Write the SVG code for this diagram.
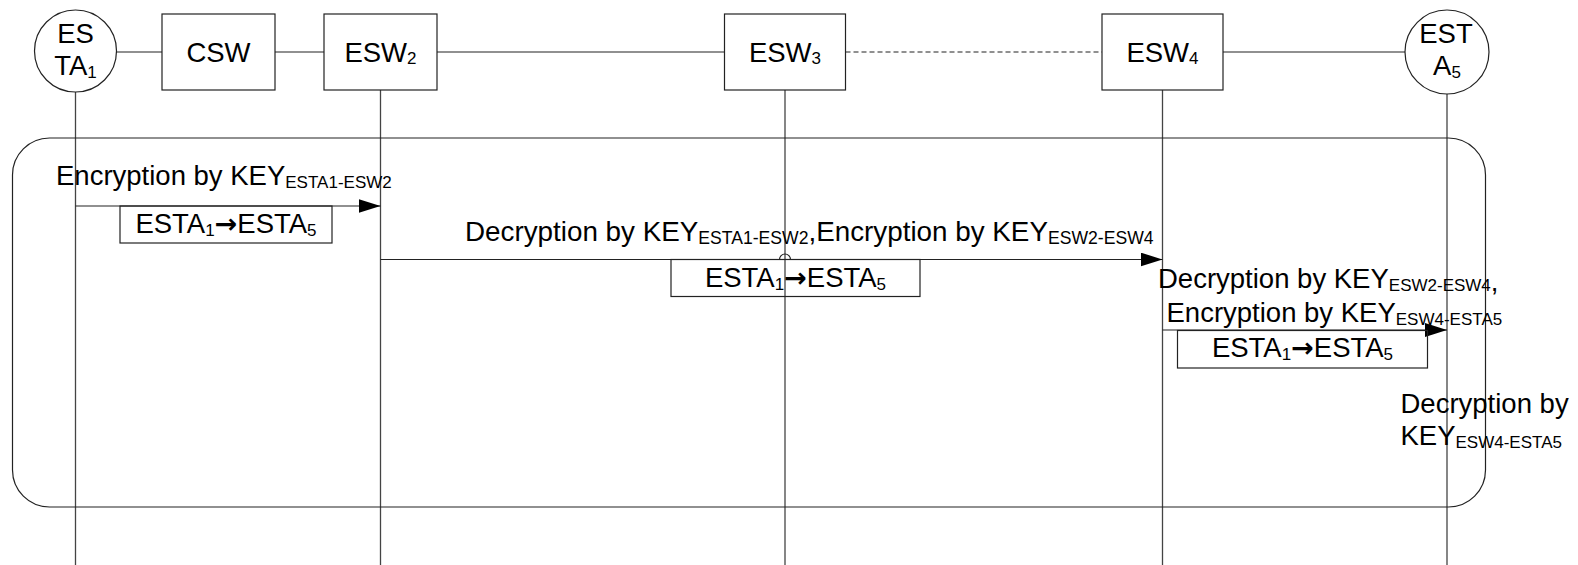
<svg xmlns="http://www.w3.org/2000/svg" width="1578" height="565" viewBox="0 0 1578 565">
<style>
.ln{stroke:#222;stroke-width:1.2;fill:none}
.ll{stroke:#444;stroke-width:1.3;fill:none}
.nd{stroke:#222;stroke-width:1.2;fill:#fff}
.bx{stroke:#222;stroke-width:1.2;fill:none}
text{font-family:"Liberation Sans",Arial,sans-serif;font-size:27.5px;fill:#000}
.c{text-anchor:middle}
.s{font-size:17px}
.s2{font-size:17.6px}
.ar{font-family:"DejaVu Sans",sans-serif;font-weight:bold;font-size:27px}
</style>
<defs>
<marker id="ah" markerUnits="userSpaceOnUse" markerWidth="24" markerHeight="16" refX="22" refY="7" orient="auto">
<path d="M0,0 L22,7 L0,14 Z" fill="#000"/>
</marker>
</defs>
<g id="connectors">
<line class="ln" x1="116" y1="52" x2="162" y2="52"/>
<line class="ln" x1="275" y1="52" x2="324" y2="52"/>
<line class="ln" x1="437" y1="52" x2="724.5" y2="52"/>
<line class="ln" x1="845.5" y1="52" x2="1102" y2="52" stroke-dasharray="5,3"/>
<line class="ln" x1="1223" y1="52" x2="1405" y2="52"/>
<line class="ll" x1="75.5" y1="92" x2="75.5" y2="565"/>
<line class="ll" x1="380.5" y1="90" x2="380.5" y2="565"/>
<line class="ll" x1="785" y1="90" x2="785" y2="565"/>
<line class="ll" x1="1162.5" y1="90" x2="1162.5" y2="565"/>
<line class="ll" x1="1447" y1="93" x2="1447" y2="565"/>
<rect class="ln" x="12.5" y="138" width="1473" height="369" rx="37" ry="37"/>
<line class="ln" x1="75.5" y1="206" x2="380.5" y2="206" marker-end="url(#ah)"/>
<path class="ln" d="M380.5,259.5 H779.5 A5.5,5.5 0 0 1 790.5,259.5 H1162.5" marker-end="url(#ah)"/>
<line class="ln" x1="1162.5" y1="330" x2="1447" y2="330" marker-end="url(#ah)"/>
</g>
<g id="ESTA1">
<circle class="nd" cx="75.5" cy="51" r="41"/>
<text class="c" x="75.5" y="43">ES</text>
<text class="c" x="75.5" y="75">TA<tspan class="s" dy="3">1</tspan></text>
</g>
<g id="CSW">
<rect class="nd" x="162" y="14" width="113" height="76"/>
<text class="c" x="218.5" y="62">CSW</text>
</g>
<g id="ESW2">
<rect class="nd" x="324" y="14" width="113" height="76"/>
<text class="c" x="380.5" y="62">ESW<tspan class="s" dy="2">2</tspan></text>
</g>
<g id="ESW3">
<rect class="nd" x="724.5" y="14" width="121" height="76"/>
<text class="c" x="785" y="62">ESW<tspan class="s" dy="2">3</tspan></text>
</g>
<g id="ESW4">
<rect class="nd" x="1102" y="14" width="121" height="76"/>
<text class="c" x="1162.5" y="62">ESW<tspan class="s" dy="2">4</tspan></text>
</g>
<g id="ESTA5">
<circle class="nd" cx="1447" cy="52" r="42"/>
<text class="c" x="1446" y="43">EST</text>
<text class="c" x="1447" y="75">A<tspan class="s" dy="3">5</tspan></text>
</g>
<g id="msg1">
<text x="56" y="185">Encryption by KEY<tspan class="s" dy="3">ESTA1-ESW2</tspan></text>
<rect class="bx" x="120" y="206" width="212" height="37"/>
<text class="c" x="226" y="233">ESTA<tspan class="s" dy="3">1</tspan><tspan class="ar" dy="-3">→</tspan><tspan>ESTA</tspan><tspan class="s" dy="3">5</tspan></text>
</g>
<g id="msg2">
<text x="465" y="241" style="font-size:27.8px">Decryption by KEY<tspan class="s2" dy="3">ESTA1-ESW2</tspan><tspan dy="-3">,Encryption by KEY</tspan><tspan class="s2" dy="3">ESW2-ESW4</tspan></text>
<rect class="bx" x="671" y="259.5" width="249" height="37"/>
<text class="c" x="795.5" y="286.5">ESTA<tspan class="s" dy="3">1</tspan><tspan class="ar" dy="-3">→</tspan><tspan>ESTA</tspan><tspan class="s" dy="3">5</tspan></text>
</g>
<g id="msg3">
<text x="1158" y="288">Decryption by KEY<tspan class="s" dy="3">ESW2-ESW4</tspan><tspan>,</tspan></text>
<text x="1166.5" y="321.5">Encryption by KEY<tspan class="s" dy="3">ESW4-ESTA5</tspan></text>
<rect class="bx" x="1177.5" y="330.5" width="250" height="37.5"/>
<text class="c" x="1302.5" y="357">ESTA<tspan class="s" dy="3">1</tspan><tspan class="ar" dy="-3">→</tspan><tspan>ESTA</tspan><tspan class="s" dy="3">5</tspan></text>
</g>
<g id="msg4">
<text x="1400.5" y="413">Decryption by</text>
<text x="1400.5" y="445">KEY<tspan class="s" dy="3">ESW4-ESTA5</tspan></text>
</g>
</svg>
